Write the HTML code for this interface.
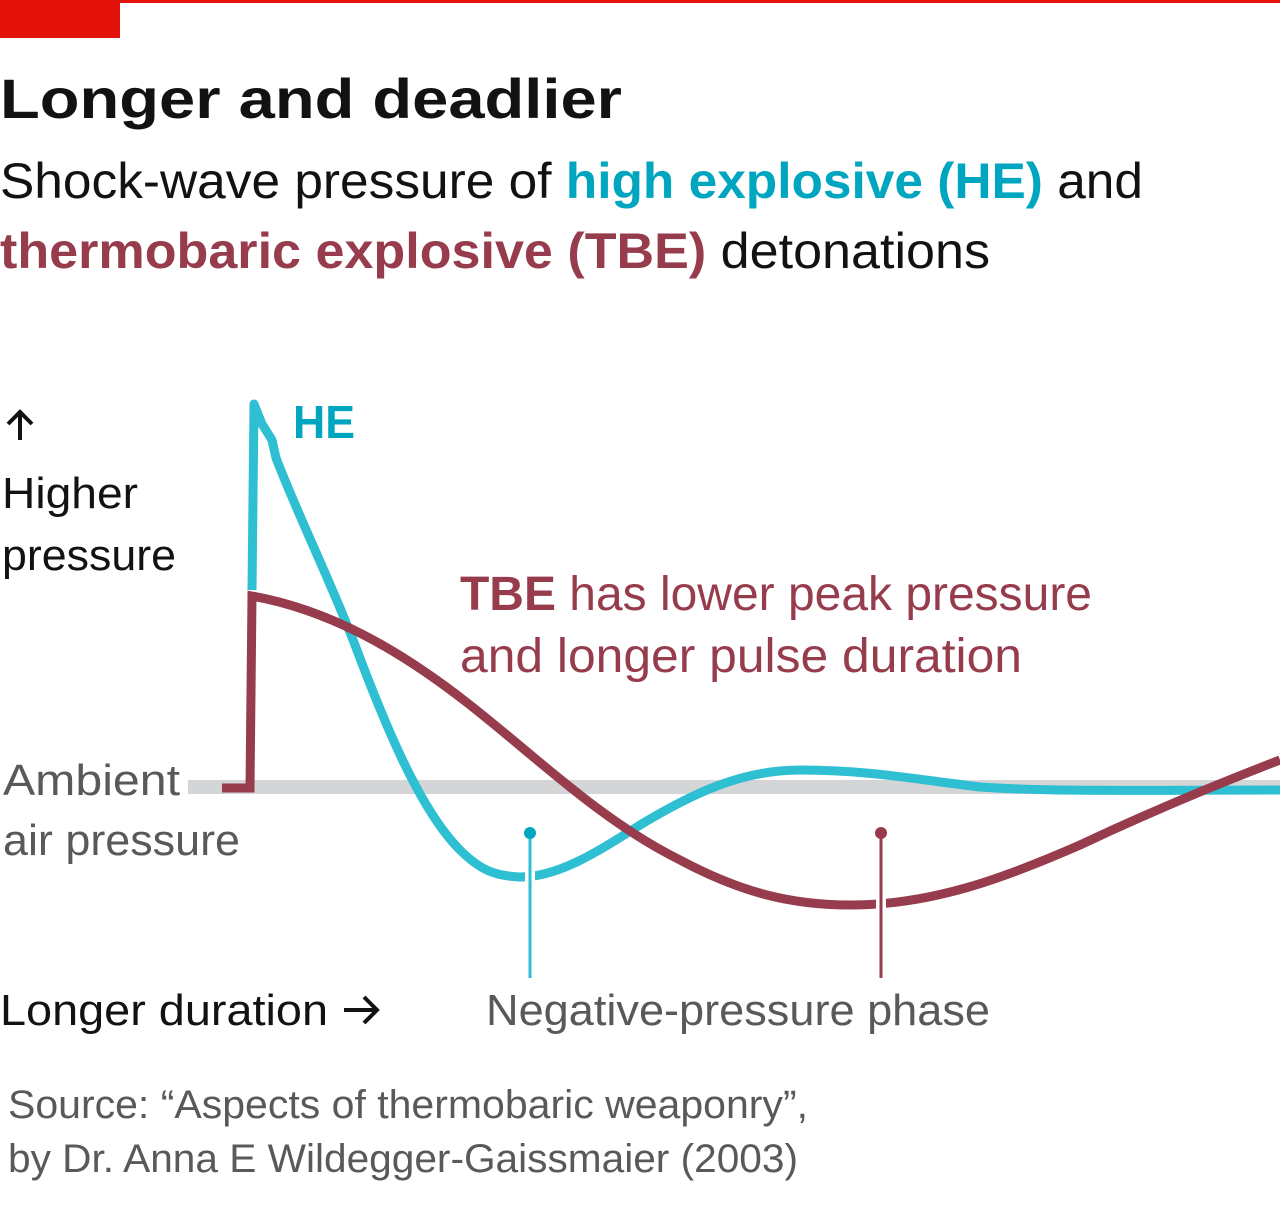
<!DOCTYPE html>
<html><head><meta charset="utf-8"><style>
html,body{margin:0;padding:0;background:#fff;}
svg{display:block}
text{font-family:"Liberation Sans",sans-serif;}
</style></head><body>
<svg width="1280" height="1222" viewBox="0 0 1280 1222" xmlns="http://www.w3.org/2000/svg">
<rect x="0" y="0" width="1280" height="3" fill="#e3120b"/>
<rect x="0" y="0" width="120" height="38" fill="#e3120b"/>
<text x="0" y="118" font-size="56" font-weight="bold" fill="#121212" textLength="622" lengthAdjust="spacingAndGlyphs">Longer and deadlier</text>
<text x="0" y="198" font-size="50" fill="#121212" textLength="1143" lengthAdjust="spacingAndGlyphs">Shock-wave pressure of <tspan fill="#00a6bf" font-weight="bold">high explosive (HE)</tspan> and</text>
<text x="0" y="268" font-size="50" fill="#121212" textLength="990" lengthAdjust="spacingAndGlyphs"><tspan fill="#963c4c" font-weight="bold">thermobaric explosive (TBE)</tspan> detonations</text>

<path d="M20 440 L20 412 M8 424 L20 412 L32 424" fill="none" stroke="#121212" stroke-width="4"/>
<text x="2" y="508" font-size="44" fill="#121212" textLength="136" lengthAdjust="spacingAndGlyphs">Higher</text>
<text x="2" y="570" font-size="44" fill="#121212" textLength="174" lengthAdjust="spacingAndGlyphs">pressure</text>
<text x="3" y="795" font-size="44" fill="#595959" textLength="177" lengthAdjust="spacingAndGlyphs">Ambient</text>
<text x="3" y="855" font-size="44" fill="#595959" textLength="237" lengthAdjust="spacingAndGlyphs">air pressure</text>

<rect x="188" y="780" width="1092" height="14" fill="#d4d5d6"/>

<path d="M252 590 L254 404 L262 424 L272 440 L276 458 C300 520 330 580 355 645 C385 725 420 810 460 850 C480 870 495 876 520 877 C560 877 600 850 640 825 C690 795 740 770 800 770 C870 770 920 780 980 787 C1050 792 1150 790 1280 790" fill="none" stroke="#2ebfd3" stroke-width="9" stroke-linejoin="round"/>
<path d="M222 788 L250 788 L252 596 C330 610 400 650 470 705 C540 760 600 820 680 860 C740 892 790 905 850 905 C930 905 1000 880 1080 845 C1150 812 1220 783 1280 760" fill="none" stroke="#963c4c" stroke-width="9" stroke-linejoin="miter"/>

<line x1="530" y1="833" x2="530" y2="978" stroke="#fff" stroke-width="10"/>
<line x1="530" y1="833" x2="530" y2="978" stroke="#2ebfd3" stroke-width="3"/>
<circle cx="530" cy="833" r="6" fill="#00a6bf"/>
<line x1="881" y1="833" x2="881" y2="978" stroke="#fff" stroke-width="10"/>
<line x1="881" y1="833" x2="881" y2="978" stroke="#963c4c" stroke-width="3"/>
<circle cx="881" cy="833" r="6" fill="#963c4c"/>

<text x="293" y="438" font-size="46" font-weight="bold" fill="#00a6bf" textLength="62" lengthAdjust="spacingAndGlyphs">HE</text>
<text x="460" y="610" font-size="48" fill="#963c4c" textLength="632" lengthAdjust="spacingAndGlyphs"><tspan font-weight="bold">TBE</tspan> has lower peak pressure</text>
<text x="460" y="672" font-size="48" fill="#963c4c" textLength="562" lengthAdjust="spacingAndGlyphs">and longer pulse duration</text>

<text x="0" y="1025" font-size="44" fill="#121212" textLength="328" lengthAdjust="spacingAndGlyphs">Longer duration</text>
<path d="M344 1010 L376 1010 M364 997 L377 1010 L364 1023" fill="none" stroke="#121212" stroke-width="4"/>
<text x="486" y="1025" font-size="44" fill="#595959" textLength="504" lengthAdjust="spacingAndGlyphs">Negative-pressure phase</text>

<text x="8" y="1118" font-size="40" fill="#595959" textLength="800" lengthAdjust="spacingAndGlyphs">Source: “Aspects of thermobaric weaponry”,</text>
<text x="8" y="1172" font-size="40" fill="#595959" textLength="790" lengthAdjust="spacingAndGlyphs">by Dr. Anna E Wildegger-Gaissmaier (2003)</text>
</svg>
</body></html>
